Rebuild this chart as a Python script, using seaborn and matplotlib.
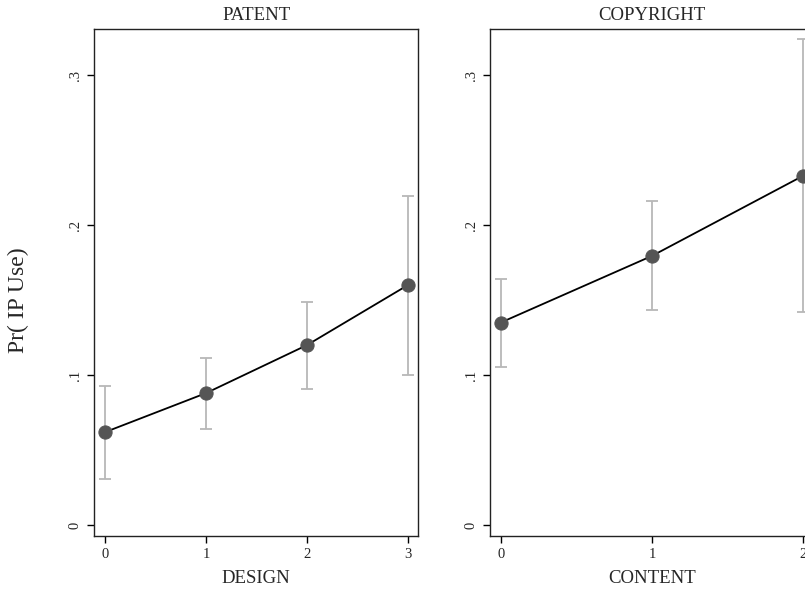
import matplotlib
matplotlib.use("Agg")
import matplotlib.pyplot as plt
import seaborn as sns

# valores
design = [0, 1, 2, 3]
patent_pr = [0.062, 0.088, 0.120, 0.160]
patent_lo = [0.031, 0.064, 0.091, 0.100]
patent_hi = [0.093, 0.1115, 0.149, 0.2195]

content = [0, 1, 2]
copy_pr = [0.135, 0.1795, 0.233]
copy_lo = [0.1055, 0.1433, 0.142]
copy_hi = [0.1638, 0.216, 0.324]

yticks = [0, 0.1, 0.2, 0.3]
ytick_labels = ["0", ".1", ".2", ".3"]

sns.set_style("white")
plt.rcParams['font.family'] = ['Liberation Serif', 'DejaVu Serif']

fig = plt.figure(figsize=(8.05, 5.91), dpi=100)
ax1 = fig.add_axes([0.1171, 0.0936, 0.4021, 0.8579])
ax2 = fig.add_axes([0.6087, 0.0936, 0.4025, 0.8579])


def panel(ax, x, pr, lo, hi, title, xlabel, xlim):
    err = [[p - l for p, l in zip(pr, lo)], [h - p for p, h in zip(pr, hi)]]
    ax.errorbar(x, pr, yerr=err, fmt='none', ecolor='#b8b8b8', elinewidth=1.3,
                capsize=4.5, capthick=1.3, zorder=1)
    sns.lineplot(x=x, y=pr, ax=ax, color='black', linewidth=1.3, marker='o',
                 markersize=9.5, markerfacecolor='#555555', markeredgecolor='#555555',
                 zorder=3)
    ax.set_xlim(*xlim)
    ax.set_ylim(-0.0071, 0.331)
    ax.set_xticks(x)
    ax.set_xticklabels([str(v) for v in x], fontsize=10.5)
    ax.set_yticks(yticks)
    ax.set_yticklabels(ytick_labels, fontsize=10.5, rotation=90, va='center')
    ax.tick_params(axis='both', direction='out', length=5, width=1, color='black',
                   bottom=True, left=True, pad=4)
    for s in ax.spines.values():
        s.set_color('#222222')
        s.set_linewidth(1.0)
    ax.set_title(title, fontsize=13.5, pad=6)
    ax.set_xlabel(xlabel, fontsize=13.5, labelpad=6)
    ax.set_ylabel("")


panel(ax1, design, patent_pr, patent_lo, patent_hi, "PATENT", "DESIGN", (-0.109, 3.10))
panel(ax2, content, copy_pr, copy_lo, copy_hi, "COPYRIGHT", "CONTENT", (-0.0708, 2.07))

fig.text(18 / 805, 1 - 300 / 591, "Pr( IP Use)", rotation=90, ha='center', va='center',
         fontsize=17)

fig.savefig("out.png", dpi=100)
